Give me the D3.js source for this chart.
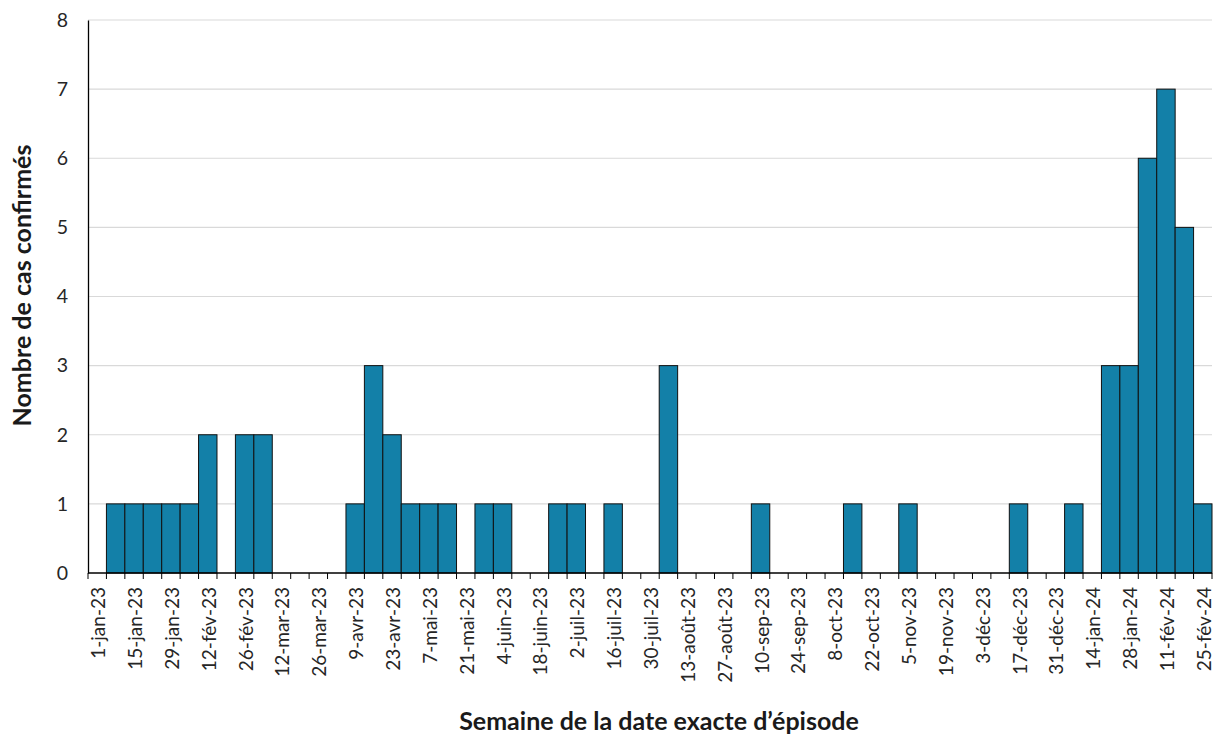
<!DOCTYPE html>
<html>
<head>
<meta charset="utf-8">
<script src="https://cdn.jsdelivr.net/npm/d3@7/dist/d3.min.js"></script>
<style>
html,body{margin:0;padding:0;background:#fff;}
svg{display:block;}
</style>
</head>
<body>
<svg id="chart" width="1216" height="734"></svg>
<script>
const weeks = [
  "1-jan-23","8-jan-23","15-jan-23","22-jan-23","29-jan-23","5-fév-23","12-fév-23","19-fév-23","26-fév-23",
  "5-mar-23","12-mar-23","19-mar-23","26-mar-23","2-avr-23","9-avr-23","16-avr-23","23-avr-23","30-avr-23",
  "7-mai-23","14-mai-23","21-mai-23","28-mai-23","4-juin-23","11-juin-23","18-juin-23","25-juin-23",
  "2-juil-23","9-juil-23","16-juil-23","23-juil-23","30-juil-23","6-août-23","13-août-23","20-août-23","27-août-23",
  "3-sep-23","10-sep-23","17-sep-23","24-sep-23","1-oct-23","8-oct-23","15-oct-23","22-oct-23","29-oct-23",
  "5-nov-23","12-nov-23","19-nov-23","26-nov-23","3-déc-23","10-déc-23","17-déc-23","24-déc-23","31-déc-23",
  "7-jan-24","14-jan-24","21-jan-24","28-jan-24","4-fév-24","11-fév-24","18-fév-24","25-fév-24"
];
const cases = [
  0,1,1,1,1,1,2,0,2,
  2,0,0,0,0,1,3,2,1,
  1,1,0,1,1,0,0,1,
  1,0,1,0,0,3,0,0,0,
  0,1,0,0,0,0,1,0,0,
  1,0,0,0,0,0,1,0,0,
  1,0,3,3,6,7,5,1
];
const tickLabels = weeks.filter((d,i) => i % 2 === 0);
const yTicks = [0,1,2,3,4,5,6,7,8];

(function draw() {
const svg = d3.select("#chart");
const mLeft = 88, mRight = 1212, mTop = 20, mBottom = 573;
const font = "Lato, 'Open Sans', sans-serif";

const x = d3.scaleBand().domain(weeks).range([mLeft, mRight]).padding(0);
const y = d3.scaleLinear().domain([0, 8]).range([mBottom, mTop]);

// gridlines
svg.append("g").selectAll("line").data(yTicks.filter(d => d > 0)).join("line")
  .attr("x1", mLeft).attr("x2", mRight)
  .attr("y1", d => y(d)).attr("y2", d => y(d))
  .attr("stroke", "#d9d9d9").attr("stroke-width", 1.2);

// bars
svg.append("g").selectAll("rect").data(weeks.map((w,i) => ({w, v: cases[i]})).filter(d => d.v > 0)).join("rect")
  .attr("x", d => x(d.w)).attr("width", x.bandwidth())
  .attr("y", d => y(d.v)).attr("height", d => y(0) - y(d.v))
  .attr("fill", "#1380A8").attr("stroke", "#111").attr("stroke-width", 1);

// y axis
const yAxis = svg.append("g").attr("transform", `translate(${mLeft},0)`)
  .call(d3.axisLeft(y).tickValues(yTicks).tickSize(0).tickPadding(20).tickFormat(d3.format("d")));
yAxis.select(".domain").attr("stroke", "#000").attr("stroke-width", 1.3);
yAxis.selectAll("text").attr("font-family", font).attr("font-size", 19.5).attr("fill", "#262626");

// x axis line + ticks at band boundaries
const xg = svg.append("g");
xg.append("line").attr("x1", mLeft).attr("x2", mRight).attr("y1", mBottom).attr("y2", mBottom)
  .attr("stroke", "#000").attr("stroke-width", 1.3);
xg.selectAll("line.tk").data(weeks.concat(["__end"])).join("line").attr("class","tk")
  .attr("x1", (d,i) => i < weeks.length ? x(d) : mRight)
  .attr("x2", (d,i) => i < weeks.length ? x(d) : mRight)
  .attr("y1", mBottom).attr("y2", mBottom + 6)
  .attr("stroke", "#000").attr("stroke-width", 1);
xg.selectAll("text").data(tickLabels).join("text")
  .attr("transform", d => `translate(${x(d) + x.bandwidth()/2 + 8},${mBottom + 14}) rotate(-90)`)
  .attr("text-anchor", "end")
  .attr("font-family", font).attr("font-size", 19).attr("fill", "#262626")
  .text(d => d);

// axis titles
svg.append("text")
  .attr("transform", `translate(31,${(mTop + mBottom) / 2 - 11}) rotate(-90)`)
  .attr("text-anchor", "middle")
  .attr("font-family", font).attr("font-weight", "bold").attr("font-size", 25).attr("fill", "#1a1a1a")
  .text("Nombre de cas confirmés");
svg.append("text")
  .attr("x", (mLeft + mRight) / 2 + 9).attr("y", 730)
  .attr("text-anchor", "middle")
  .attr("font-family", font).attr("font-weight", "bold").attr("font-size", 25).attr("fill", "#1a1a1a")
  .text("Semaine de la date exacte d’épisode");
})();
</script>
</body>
</html>
